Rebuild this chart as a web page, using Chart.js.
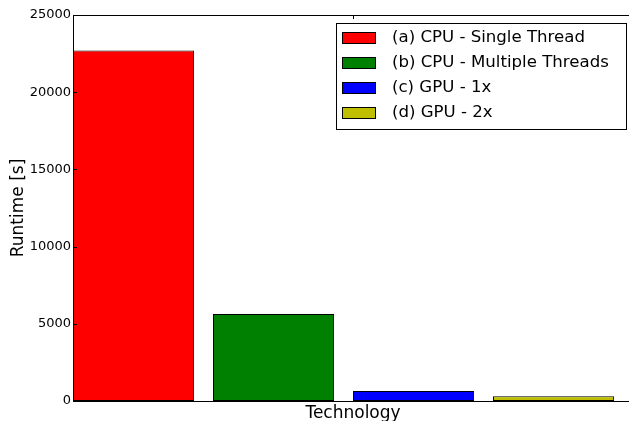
<!DOCTYPE html>
<html>
<head>
<meta charset="utf-8">
<script src="https://cdn.jsdelivr.net/npm/chart.js@4"></script>
<style>
  html, body { margin: 0; padding: 0; background: #fff; overflow: hidden; }
  #wrap { width: 629px; height: 421px; overflow: hidden; }
</style>
</head>
<body>
<div id="wrap"><canvas id="myChart" width="640" height="430"></canvas></div>
<script>
// data
const technologies = ['(a) CPU - Single Thread', '(b) CPU - Multiple Threads', '(c) GPU - 1x', '(d) GPU - 2x'];
const runtimes = [22700, 5640, 650, 305];
const barColors = ['#ff0000', '#008000', '#0000ff', '#bfbf00'];
const yTicks = [0, 5000, 10000, 15000, 20000, 25000];

const barWidth = 0.865;   // matplotlib-like bar width, bars sit at 0, 1, 2, 3

Chart.defaults.font.family = 'DejaVu Sans';
Chart.defaults.color = '#000';

// axes frame with inward ticks, like matplotlib
const framePlugin = {
    id: 'frame',
    afterDatasetsDraw(chart) {
        const {ctx, chartArea: a, scales} = chart;
        ctx.save();
        ctx.strokeStyle = '#000';
        ctx.lineWidth = 1;
        ctx.strokeRect(a.left + 0.5, a.top + 0.5, a.right - a.left, a.bottom - a.top);
        ctx.beginPath();
        yTicks.forEach(v => {
            const y = Math.round(scales.y.getPixelForValue(v)) + 0.5;
            ctx.moveTo(a.left, y); ctx.lineTo(a.left + 4, y);
            ctx.moveTo(a.right, y); ctx.lineTo(a.right - 4, y);
        });
        const xMid = Math.round(scales.x.getPixelForValue(2)) + 0.5;
        ctx.moveTo(xMid, a.top); ctx.lineTo(xMid, a.top + 4);
        ctx.moveTo(xMid, a.bottom); ctx.lineTo(xMid, a.bottom - 4);
        ctx.stroke();
        ctx.restore();
    }
};

// boxed legend in the upper right corner of the plot
const boxLegend = {
    id: 'boxLegend',
    afterDraw(chart) {
        const {ctx, chartArea: a} = chart;
        ctx.save();
        ctx.font = '16.6px "DejaVu Sans"';
        let maxW = 0;
        technologies.forEach(t => { maxW = Math.max(maxW, ctx.measureText(t).width); });
        const w = Math.round(6 + 33 + 17 + maxW + 17);
        const h = 106;
        const x0 = Math.round(a.right - 7 - w);
        const y0 = Math.round(a.top + 8);
        ctx.fillStyle = '#fff';
        ctx.fillRect(x0, y0, w, h);
        ctx.strokeStyle = '#000';
        ctx.lineWidth = 1;
        ctx.strokeRect(x0 + 0.5, y0 + 0.5, w, h);
        technologies.forEach((t, i) => {
            const sy = y0 + 9 + i * 25;
            ctx.fillStyle = barColors[i];
            ctx.fillRect(x0 + 6, sy, 33, 11);
            ctx.strokeRect(x0 + 6.5, sy + 0.5, 33, 11);
            ctx.fillStyle = '#000';
            ctx.textBaseline = 'middle';
            ctx.fillText(t, x0 + 6 + 33 + 17, sy + 6);
        });
        ctx.restore();
    }
};

const ctx = document.getElementById('myChart').getContext('2d');
const myChart = new Chart(ctx, {
    type: 'bar',
    data: {
        datasets: [{
            label: 'Runtime',
            data: runtimes.map((r, i) => ({x: i + barWidth / 2, y: r})),
            backgroundColor: barColors,
            borderColor: '#000',
            borderWidth: 1,
            borderSkipped: false,
            categoryPercentage: 1,
            barPercentage: barWidth
        }]
    },
    options: {
        responsive: false,
        animation: false,
        devicePixelRatio: 1,
        layout: { padding: { top: 15, right: 7, left: 0, bottom: 0 } },
        plugins: { legend: { display: false }, tooltip: { enabled: false } },
        scales: {
            x: {
                type: 'linear',
                min: 0,
                max: 4,
                offset: false,
                grid: { display: false, offset: false },
                border: { display: false },
                ticks: { display: false, stepSize: 1 },
                afterFit: s => { s.height = 29; },
                title: {
                    display: true,
                    text: 'Technology',
                    font: { size: 17 },
                    padding: { top: 0, bottom: 6 }
                }
            },
            y: {
                min: 0,
                max: 25000,
                grid: { display: false, drawTicks: false },
                border: { display: false },
                afterBuildTicks: s => { s.ticks = yTicks.map(v => ({value: v})); },
                afterFit: s => { s.width = 73; },
                ticks: { font: { size: 13 }, padding: 2, callback: v => String(v) },
                title: {
                    display: true,
                    text: 'Runtime [s]',
                    font: { size: 17 },
                    padding: { top: 8, bottom: 0 }
                }
            }
        }
    },
    plugins: [framePlugin, boxLegend]
});
</script>
</body>
</html>
